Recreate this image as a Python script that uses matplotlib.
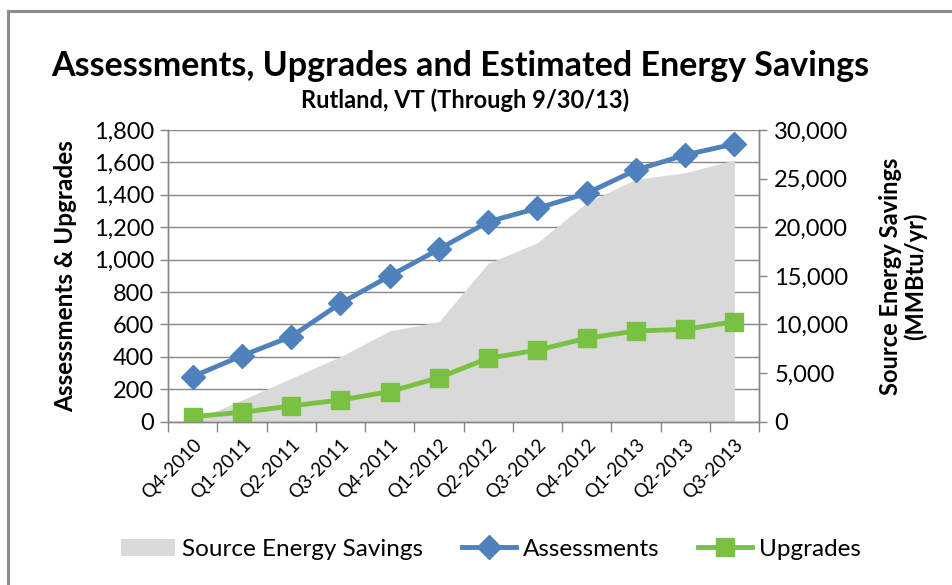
import numpy as np
import matplotlib
matplotlib.use('Agg')
import matplotlib.pyplot as plt
from matplotlib.lines import Line2D

plt.rcParams['font.family'] = ['Lato', 'DejaVu Sans']

quarters = ['Q4-2010', 'Q1-2011', 'Q2-2011', 'Q3-2011', 'Q4-2011', 'Q1-2012',
            'Q2-2012', 'Q3-2012', 'Q4-2012', 'Q1-2013', 'Q2-2013', 'Q3-2013']
assessments = [278, 407, 525, 730, 899, 1064, 1234, 1317, 1409, 1553, 1646, 1714]
upgrades = [31, 58, 97, 134, 185, 272, 391, 442, 515, 560, 570, 617]
savings = [100, 2230, 4460, 6690, 9330, 10290, 16290, 18410, 22520, 24930, 25610, 26920]

left_ticks = list(range(0, 1801, 200))
right_ticks = list(range(0, 30001, 5000))

blue = '#4F81BD'
green = '#7AC143'
grey_fill = '#D9D9D9'
axis_col = '#868686'

fig = plt.figure(figsize=(9.52, 5.85), dpi=100)
ax = fig.add_axes([168/952, 1-421.7/585, (759-168)/952, (421.7-130)/585])
ax2 = ax.twinx()

x = np.arange(len(quarters))

# area sits on the right scale but is drawn in the host axes so grid < area < lines
area = ax.fill_between(x, savings, 0, color=grey_fill, lw=0, zorder=1,
                       transform=ax2.transData, label='Source Energy Savings')
ax.plot(x, assessments, color=blue, lw=3.5, marker='D', ms=12, zorder=3)
ax.plot(x, upgrades, color=green, lw=3.5, marker='s', ms=13, zorder=3)

ax.set_xlim(-0.5, len(quarters) - 0.5)
ax.set_ylim(0, 1800)
ax2.set_ylim(0, 30000)

ax.set_yticks(left_ticks)
ax.set_yticklabels([f'{v:,}' for v in left_ticks])
ax2.set_yticks(right_ticks)
ax2.set_yticklabels([f'{v:,}' for v in right_ticks])

ax.set_xticks(x)
ax.set_xticklabels(quarters, rotation=45, ha='right', rotation_mode='anchor', fontsize=13.5)
ax.set_xticks(np.arange(-0.5, len(quarters)), minor=True)
ax.tick_params(axis='x', which='major', length=0, pad=10)
ax.tick_params(axis='x', which='minor', length=7, color=axis_col, width=1)
ax.tick_params(axis='y', length=6, color=axis_col, width=1, labelsize=17, pad=4)
ax2.tick_params(axis='y', length=6, color=axis_col, width=1, labelsize=17, pad=5)

ax.set_axisbelow(True)
ax.yaxis.grid(True, color=axis_col, lw=1)
for a in (ax, ax2):
    a.spines['top'].set_visible(False)
    for s in ('left', 'right', 'bottom'):
        a.spines[s].set_color(axis_col)
        a.spines[s].set_linewidth(1)

ax.set_ylabel('Assessments & Upgrades', fontsize=17.5, fontweight='bold', labelpad=12)
ax2.set_ylabel('Source Energy Savings\n(MMBtu/yr)', fontsize=17, fontweight='bold',
               labelpad=22, linespacing=1.05)

fig.text(0.483, 0.888, 'Assessments, Upgrades and Estimated Energy Savings',
         ha='center', va='center', fontsize=24.5, fontweight='bold')
fig.text(0.488, 0.828, 'Rutland, VT (Through 9/30/13)', ha='center', va='center',
         fontsize=17, fontweight='bold')

handles = [area,
           Line2D([], [], color=blue, lw=3.5, marker='D', ms=12),
           Line2D([], [], color=green, lw=3.5, marker='s', ms=13)]
fig.legend(handles, ['Source Energy Savings', 'Assessments', 'Upgrades'],
           loc='center', bbox_to_anchor=(0.516, 0.061), ncol=3, frameon=False,
           fontsize=17.5, handlelength=2.2, handletextpad=0.3, columnspacing=1.6)

# chart frame (only left and top edges are inside the picture)
fig.add_artist(Line2D([8/952, 8/952], [0, 1-11/585], color='#8c8c8c', lw=2.2,
                      transform=fig.transFigure))
fig.add_artist(Line2D([8/952, 1], [1-11/585, 1-11/585], color='#8c8c8c', lw=2.2,
                      transform=fig.transFigure))

fig.savefig('out.png', dpi=100)
